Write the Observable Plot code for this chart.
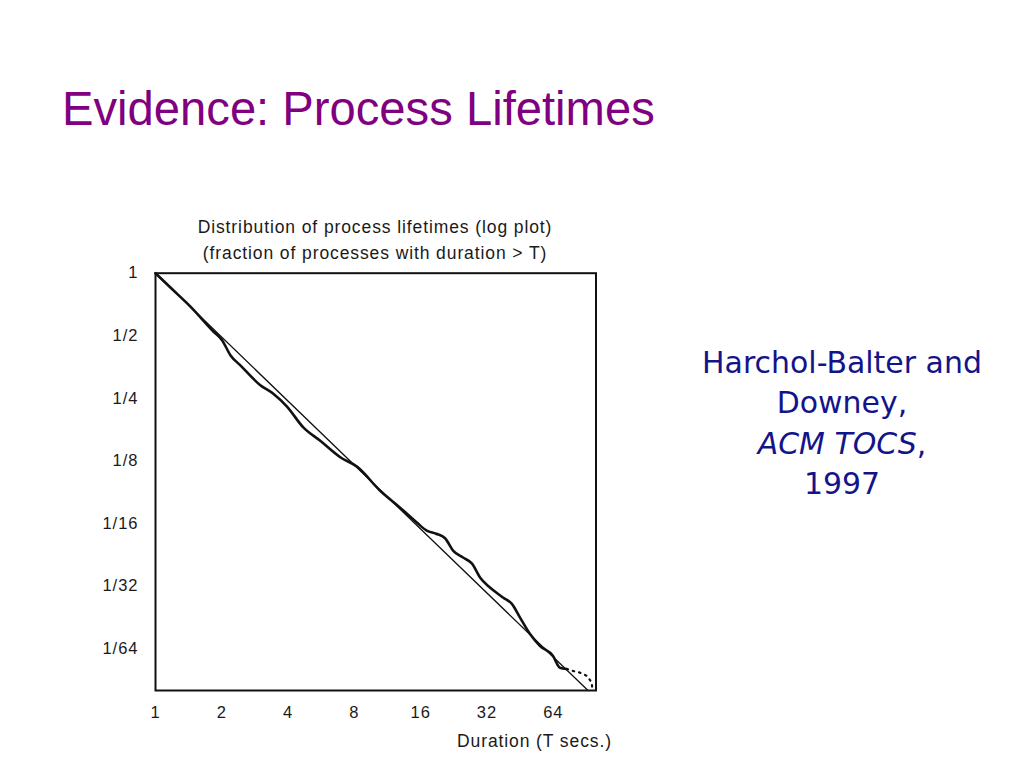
<!DOCTYPE html>
<html>
<head>
<meta charset="utf-8">
<script src="https://cdn.jsdelivr.net/npm/d3@7"></script>
<script src="https://cdn.jsdelivr.net/npm/@observablehq/plot@0.6"></script>
<style>
  html, body { margin: 0; padding: 0; background: #fff; }
  body { width: 1024px; height: 768px; position: relative; overflow: hidden; }
  .t { position: absolute; white-space: nowrap; line-height: 1; }
  #chart { position: absolute; left: 0; top: 200px; }
</style>
</head>
<body>
<div id="slideTitle" class="t" style="left:62px; color:#800080; font-family:'Liberation Sans', Arial, sans-serif;">Evidence: Process Lifetimes</div>
<div id="ct1" class="t" style="left:175px; width:400px; text-align:center; font-family:'Liberation Sans', Arial, sans-serif; font-size:17.5px; letter-spacing:0.9px; color:#1a1a1a;">Distribution of process lifetimes (log plot)</div>
<div id="ct2" class="t" style="left:175px; width:400px; text-align:center; font-family:'Liberation Sans', Arial, sans-serif; font-size:17.5px; letter-spacing:0.9px; color:#1a1a1a;">(fraction of processes with duration &gt; T)</div>
<div id="chart"></div>
<div id="xlabel" class="t" style="left:457px; font-family:'Liberation Sans', Arial, sans-serif; font-size:17.5px; letter-spacing:0.9px; color:#1a1a1a;">Duration (T secs.)</div>
<div id="r0" class="t rt" style="font-family:'DejaVu Sans', sans-serif; color:#14148a;">Harchol-Balter and</div>
<div id="r1" class="t rt" style="font-family:'DejaVu Sans', sans-serif; color:#14148a;">Downey,</div>
<div id="r2" class="t rt" style="font-family:'DejaVu Sans', sans-serif; color:#14148a;"><i>ACM TOCS</i>,</div>
<div id="r3" class="t rt" style="font-family:'DejaVu Sans', sans-serif; color:#14148a;">1997</div>
<script>
// ---- data ----
const xTicks = [1, 2, 4, 8, 16, 32, 64];
const xTickLabels = ["1", "2", "4", "8", "16", "32", "64"];
const yTicks = [1, 1/2, 1/4, 1/8, 1/16, 1/32, 1/64];
const yTickLabels = ["1", "1/2", "1/4", "1/8", "1/16", "1/32", "1/64"];

// measured distribution: fraction of processes with duration > T
const durationT = [1, 1.169, 1.441, 1.832, 2.006, 2.188, 2.429, 2.992, 3.427, 3.954, 4.689, 5.598, 6.90, 8.24, 10.47, 12.9, 15.36, 17.05, 18.79, 20.64, 22.44, 24.9, 27.36, 29.75, 33.0, 37.8, 41.5, 45.2, 50.1, 55.6, 63.7, 68.6, 73.5];
const fractionGT = [1, 0.853, 0.691, 0.524, 0.476, 0.403, 0.360, 0.289, 0.263, 0.228, 0.181, 0.156, 0.130, 0.117, 0.0897, 0.0744, 0.0631, 0.0576, 0.0557, 0.0530, 0.0462, 0.0428, 0.0400, 0.0343, 0.0307, 0.0275, 0.0256, 0.0220, 0.0184, 0.0161, 0.0144, 0.01262, 0.01245];

// sparse tail (dotted)
const tailT = [73.5, 78.5, 84.5, 90.9, 95.7, 96.3];
const tailF = [0.01245, 0.01218, 0.01195, 0.01153, 0.0107, 0.0098];

// fitted straight line (approx. 1/T)
const fitT = [1, 92];
const fitF = [1, 0.0098];

const curve = durationT.map((t, i) => ({t, f: fractionGT[i]}));
const tail = tailT.map((t, i) => ({t, f: tailF[i]}));
const fit = fitT.map((t, i) => ({t, f: fitF[i]}));

const chart = Plot.plot({
  width: 640,
  height: 560,
  marginLeft: 155,
  marginRight: 44.5,
  marginTop: 72.7,
  marginBottom: 70,
  style: {fontFamily: "'Liberation Sans', Arial, sans-serif", fontSize: "16.5px", letterSpacing: "1px", color: "#1a1a1a", background: "transparent", overflow: "visible"},
  x: {type: "log", base: 2, domain: [1, 100]},
  y: {type: "log", base: 2, domain: [1/102, 1]},
  marks: [
    Plot.axisX({ticks: xTicks, tickSize: 0, tickPadding: 16, tickFormat: d => xTickLabels[xTicks.indexOf(d)], label: null}),
    Plot.axisY({ticks: yTicks, tickSize: 0, tickPadding: 17, tickFormat: d => yTickLabels[yTicks.indexOf(d)], label: null}),
    Plot.line(fit, {x: "t", y: "f", stroke: "#111", strokeWidth: 1.3}),
    Plot.line(curve, {x: "t", y: "f", stroke: "#111", strokeWidth: 2.6, strokeLinejoin: "round", curve: "monotone-x"}),
    Plot.line(tail, {x: "t", y: "f", stroke: "#111", strokeWidth: 2.2, strokeDasharray: "1.5,5", strokeLinecap: "round"}),
    Plot.frame({stroke: "#111", strokeWidth: 2})
  ]
});
document.getElementById("chart").appendChild(chart);

// ---- text layout ----
const R = 0.846; // baseline offset ratio for line-height 1
function place(el, baseline, F) { el.style.fontSize = F + "px"; el.style.top = (baseline - R * F) + "px"; }
function fitSize(el, target) {
  el.style.fontSize = "40px";
  const w = el.getBoundingClientRect().width;
  return 40 * target / w;
}
const st = document.getElementById("slideTitle");
const Fs = fitSize(st, 593);
place(st, 125, Fs);

place(document.getElementById("ct1"), 233.5, 17.5);
place(document.getElementById("ct2"), 259.5, 17.5);
place(document.getElementById("xlabel"), 747.5, 17.5);

const r0 = document.getElementById("r0");
const Fr = fitSize(r0, 280);
[0, 1, 2, 3].forEach(i => {
  const el = document.getElementById("r" + i);
  place(el, 373 + 40.6 * i, Fr);
  const w = el.getBoundingClientRect().width;
  el.style.left = (842 - w / 2) + "px";
});
</script>
</body>
</html>
